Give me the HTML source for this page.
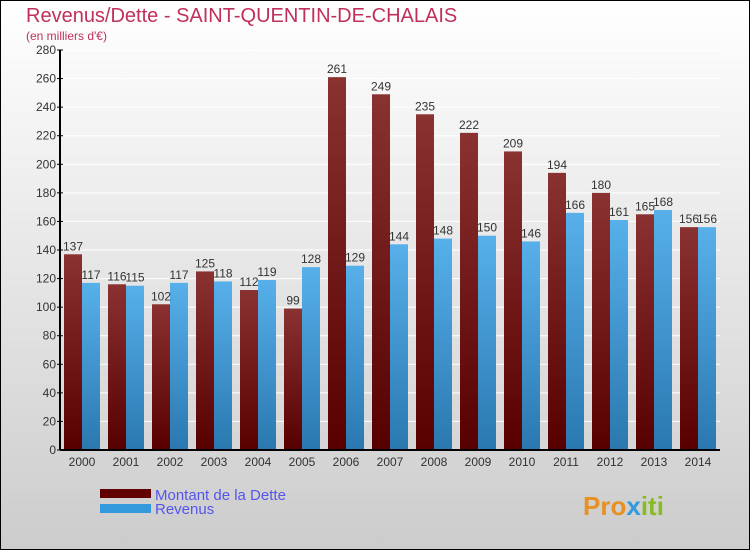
<!DOCTYPE html>
<html><head><meta charset="utf-8"><style>
body{margin:0}
svg text{font-family:"Liberation Sans",sans-serif}
</style></head><body>
<svg width="750" height="550" xmlns="http://www.w3.org/2000/svg">
<defs>
<linearGradient id="bg" x1="0" y1="0" x2="0" y2="1"><stop offset="0" stop-color="#ffffff"/><stop offset="1" stop-color="#cccccc"/></linearGradient>
<linearGradient id="gd" x1="0" y1="0" x2="0" y2="1"><stop offset="0" stop-color="#8a3232"/><stop offset="1" stop-color="#580000"/></linearGradient>
<linearGradient id="gr" x1="0" y1="0" x2="0" y2="1"><stop offset="0" stop-color="#57b0ea"/><stop offset="1" stop-color="#2a78b0"/></linearGradient>
</defs>
<rect x="0.5" y="0.5" width="749" height="549" fill="url(#bg)" stroke="#000"/>
<text x="26" y="22" font-size="20" fill="#c0305a">Revenus/Dette - SAINT-QUENTIN-DE-CHALAIS</text>
<text x="26" y="40" font-size="12" fill="#c0305a">(en milliers d'€)</text>
<g id="grid"></g><g id="bars"></g><g id="axes"></g>
<rect x="100" y="489" width="51" height="9" fill="#600000"/>
<rect x="100" y="504" width="51" height="9" fill="#3399dd"/>
<text x="155" y="500" font-size="15" fill="#5555ee">Montant de la Dette</text>
<text x="155" y="514" font-size="15" fill="#5555ee">Revenus</text>
<text x="583" y="515" font-size="26" font-weight="bold" fill="#e89020">Pro<tspan fill="#3399dd">x</tspan><tspan fill="#88bb22">iti</tspan></text>
</svg>
<script>
const years=["2000","2001","2002","2003","2004","2005","2006","2007","2008","2009","2010","2011","2012","2013","2014"];
const dette=[137,116,102,125,112,99,261,249,235,222,209,194,180,165,156];
const revenus=[117,115,117,118,119,128,129,144,148,150,146,166,161,168,156];
const ticks=[0,20,40,60,80,100,120,140,160,180,200,220,240,260,280];
const NS="http://www.w3.org/2000/svg";
const y0=450,ymax=280,ph=400,x0=60,x1=720;
const ys=v=>y0-v/ymax*ph;
const gw=44, gx=i=>64+i*gw;
function mk(t,a,p){const e=document.createElementNS(NS,t);for(const k in a)e.setAttribute(k,a[k]);document.getElementById(p).appendChild(e);return e;}
ticks.forEach(t=>{
 const l=mk('line',{x1:x0,x2:x1,y1:ys(t),y2:ys(t),stroke:'#ffffff','stroke-width':1},'grid');
 
 
 const k=mk('line',{x1:x0-3,x2:x0+3,y1:ys(t),y2:ys(t),stroke:'#000'},'axes');
 
 
 const tx=mk('text',{x:x0-4,y:ys(t)+4,'font-size':12,fill:'#333','text-anchor':'end'},'axes');tx.textContent=t;
 
 
});
years.forEach((yr,i)=>{
 const x=gx(i);
 const bd=mk('rect',{x:x,y:ys(dette[i]),width:18,height:y0-ys(dette[i]),fill:'url(#gd)'},'bars');
 
 
 const br=mk('rect',{x:x+18,y:ys(revenus[i]),width:18,height:y0-ys(revenus[i]),fill:'url(#gr)'},'bars');
 
 
 const ld=mk('text',{x:x+9,y:ys(dette[i])-4,'font-size':12,fill:'#333','text-anchor':'middle'},'bars');ld.textContent=dette[i];
 
 
 const lr=mk('text',{x:x+27,y:ys(revenus[i])-4,'font-size':12,fill:'#333','text-anchor':'middle'},'bars');lr.textContent=revenus[i];
 
 
 const xt=mk('text',{x:x+18,y:466,'font-size':12,fill:'#333','text-anchor':'middle'},'axes');xt.textContent=yr;
 
 
});
const ya=mk('line',{x1:x0,x2:x0,y1:50,y2:y0,stroke:'#000','stroke-width':2},'axes');


const xa=mk('line',{x1:x0,x2:x1,y1:y0,y2:y0,stroke:'#000','stroke-width':2},'axes');


</script>
</body></html>
